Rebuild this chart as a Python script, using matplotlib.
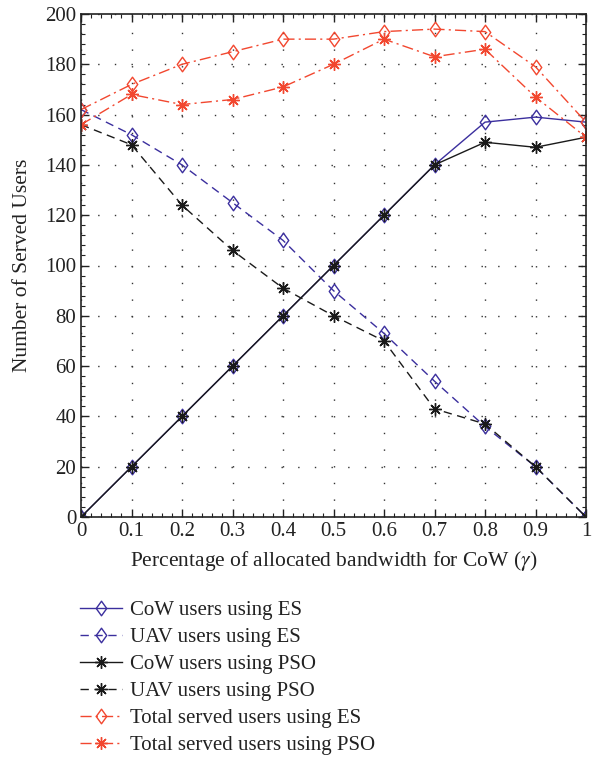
import matplotlib
matplotlib.use("Agg")
import matplotlib.pyplot as plt
from matplotlib.ticker import MultipleLocator
from matplotlib.path import Path

gamma = [0, 0.1, 0.2, 0.3, 0.4, 0.5, 0.6, 0.7, 0.8, 0.9, 1.0]
xtick_labels = ["0", "0.1", "0.2", "0.3", "0.4", "0.5", "0.6", "0.7", "0.8", "0.9", "1"]
cow_es = [0, 20, 40, 60, 80, 100, 120, 140, 157, 159, 157]
uav_es = [162, 152, 140, 125, 110, 90, 73, 54, 36, 20, 0]
cow_pso = [0, 20, 40, 60, 80, 100, 120, 140, 149, 147, 151]
uav_pso = [156, 148, 124, 106, 91, 80, 70, 43, 37, 20, 0]
total_es = [162, 172, 180, 185, 190, 190, 193, 194, 193, 179, 157]
total_pso = [156, 168, 164, 166, 171, 180, 190, 183, 186, 167, 151]

labels = ["CoW users using ES", "UAV users using ES", "CoW users using PSO",
          "UAV users using PSO", "Total served users using ES", "Total served users using PSO"]

plt.rcParams['font.family'] = ['Liberation Serif', 'DejaVu Serif']
plt.rcParams['mathtext.fontset'] = 'stix'

blue = '#3b2f9e'
red = '#f2472f'
black = '#1a1a1a'
txt = '#222222'

fig = plt.figure(figsize=(6.01, 7.58), dpi=100)
ax = fig.add_axes([81/601, 1-517/758, (586-81)/601, (517-14)/758])

diamond = Path([(0, 1), (0.72, 0), (0, -1), (-0.72, 0), (0, 1)],
               [Path.MOVETO, Path.LINETO, Path.LINETO, Path.LINETO, Path.CLOSEPOLY])
star = (8, 2, 0)
ms_d = 10.5
ms_s = 9
h = []
h += ax.plot(gamma, cow_es, color=blue, lw=1.0, ls='-', marker=diamond, ms=ms_d, mfc='none', mec=blue, mew=1.0)
h += ax.plot(gamma, uav_es, color=blue, lw=1.0, ls=(0, (6, 4)), marker=diamond, ms=ms_d, mfc='none', mec=blue, mew=1.0)
h += ax.plot(gamma, cow_pso, color=black, lw=1.0, ls='-', marker=star, ms=ms_s, mec=black, mew=1.0)
h += ax.plot(gamma, uav_pso, color=black, lw=1.0, ls=(0, (6, 4)), marker=star, ms=ms_s, mec=black, mew=1.0)
h += ax.plot(gamma, total_es, color=red, lw=1.0, ls=(0, (8, 3, 1.5, 3)), marker=diamond, ms=ms_d, mfc='none', mec=red, mew=1.0)
h += ax.plot(gamma, total_pso, color=red, lw=1.0, ls=(0, (8, 3, 1.5, 3)), marker=star, ms=ms_s, mec=red, mew=1.0)

ax.set_xlim(0, 1)
ax.set_ylim(0, 200)
ax.set_xticks(gamma)
ax.set_xticklabels(xtick_labels)
ax.set_yticks(range(0, 201, 20))
ax.xaxis.set_minor_locator(MultipleLocator(0.02))
ax.yaxis.set_minor_locator(MultipleLocator(4))
ax.tick_params(which='both', direction='in', top=True, right=True, labelsize=15, colors=txt)
ax.tick_params(which='major', length=6, width=1.0)
ax.tick_params(which='minor', length=3, width=0.8)
ax.grid(True, which='major', ls=(0, (1, 11)), color='#333333', lw=1.0)
for s in ax.spines.values():
    s.set_linewidth(1.2)
    s.set_color(txt)

ax.set_xlabel(r"Percentage of allocated bandwidth for CoW ($\gamma$)", fontsize=15.5, color=txt, labelpad=6)
ax.set_ylabel("Number of Served Users", fontsize=15.5, color=txt, labelpad=9)

fig.legend(h, labels, loc='upper left', bbox_to_anchor=(72/601, 1-592/758), frameon=False,
           fontsize=15.0, handlelength=2.0, labelspacing=0.36, handletextpad=0.4, borderaxespad=0,
           labelcolor=txt)

fig.savefig("out.png", dpi=100)
